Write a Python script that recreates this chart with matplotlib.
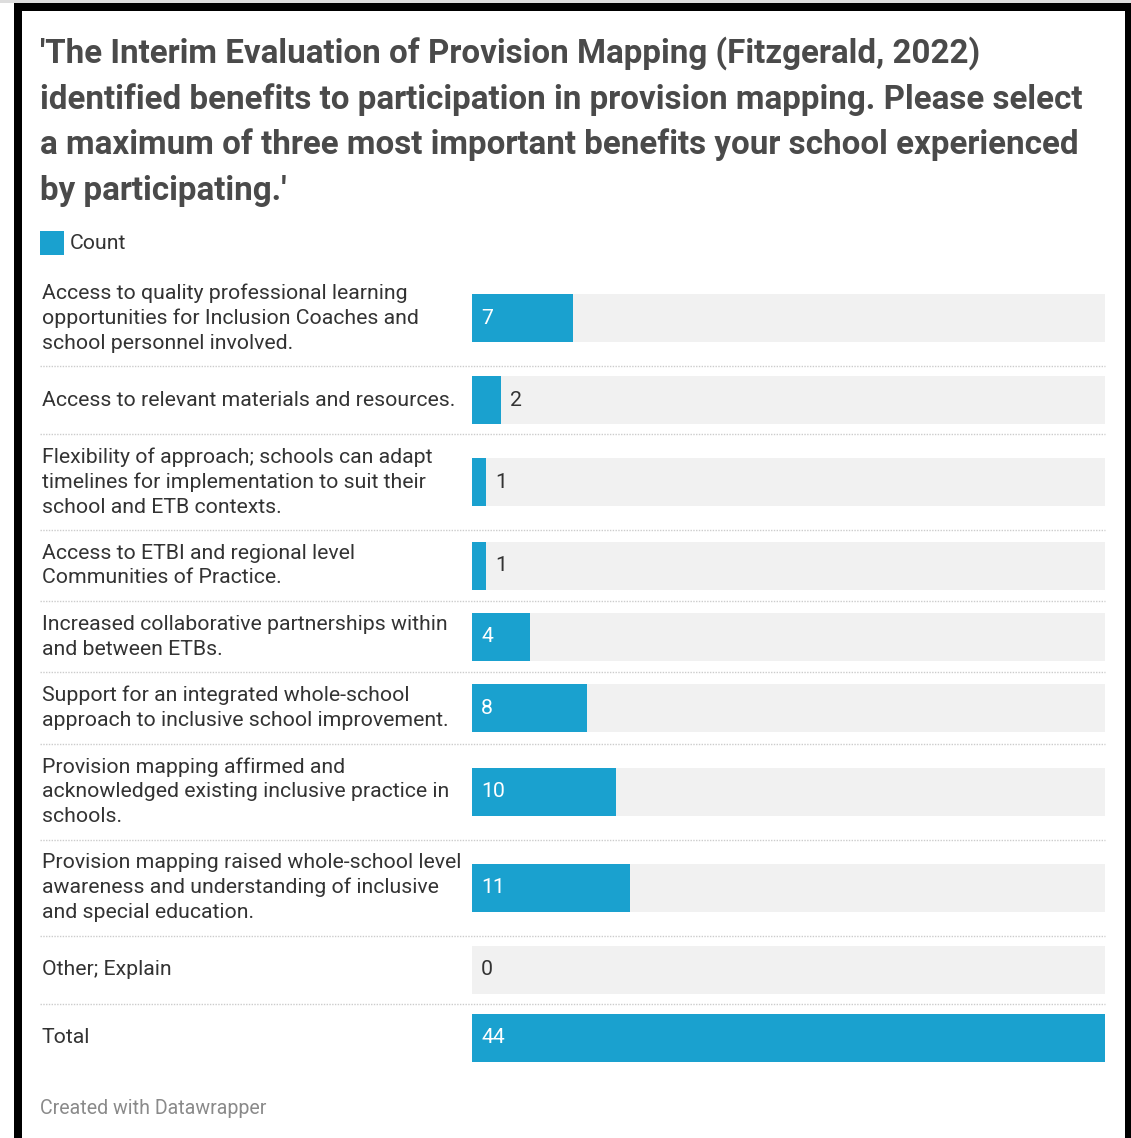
import matplotlib
matplotlib.use("Agg")
import matplotlib.pyplot as plt
from matplotlib.patches import Rectangle

plt.rcParams['font.family'] = ['Roboto', 'DejaVu Sans']

# ---- data ----
title_lines = [
    "'The Interim Evaluation of Provision Mapping (Fitzgerald, 2022)",
    "identified benefits to participation in provision mapping. Please select",
    "a maximum of three most important benefits your school experienced",
    "by participating.'",
]
categories = [
    "Access to quality professional learning\nopportunities for Inclusion Coaches and\nschool personnel involved.",
    "Access to relevant materials and resources.",
    "Flexibility of approach; schools can adapt\ntimelines for implementation to suit their\nschool and ETB contexts.",
    "Access to ETBI and regional level\nCommunities of Practice.",
    "Increased collaborative partnerships within\nand between ETBs.",
    "Support for an integrated whole-school\napproach to inclusive school improvement.",
    "Provision mapping affirmed and\nacknowledged existing inclusive practice in\nschools.",
    "Provision mapping raised whole-school level\nawareness and understanding of inclusive\nand special education.",
    "Other; Explain",
    "Total",
]
counts = [7, 2, 1, 1, 4, 8, 10, 11, 0, 44]
series_name = "Count"
footer = "Created with Datawrapper"

# ---- style ----
W, H = 1131, 1138
BAR = "#1aa1cf"
BG_BAR = "#f1f1f1"
TEXT = "#333333"
TITLE = "#4a4a4a"
FS = 15.3

fig = plt.figure(figsize=(W / 100, H / 100), dpi=100)
fig.patch.set_facecolor("white")

# row layout: pitch depends on number of label lines
pitch = {1: 68, 2: 71.2, 3: 96}
x0, x1 = 472, 1105
top = 270
centers, seps = [], []
for lab in categories:
    n = lab.count("\n") + 1
    h = pitch[n]
    centers.append(top + h / 2)
    top += h
    seps.append(top)

# bar axes in pixel y-space
bax = fig.add_axes([x0 / W, 0, (x1 - x0) / W, 1])
bax.set_ylim(H, 0)
vmax = max(counts)
bax.set_xlim(0, vmax)
bax.axis("off")
bax.barh(centers, [vmax] * len(counts), height=48, left=0, color=BG_BAR, lw=0)
bax.barh(centers, counts, height=48, left=0, color=BAR, lw=0)

# pixel-space overlay for text and decorations, drawn above the bars
ax = fig.add_axes([0, 0, 1, 1])
ax.set_xlim(0, W)
ax.set_ylim(H, 0)
ax.axis("off")
ax.patch.set_alpha(0)
ax.set_zorder(2)

# frame
ax.add_patch(Rectangle((0, 0), W, 3, color="#dddddd", lw=0))
ax.add_patch(Rectangle((14, 3), W - 14, 8, color="black", lw=0))
ax.add_patch(Rectangle((14, 3), 8, H, color="black", lw=0))
ax.add_patch(Rectangle((1125, 3), 6, H, color="black", lw=0))

# title
for i, line in enumerate(title_lines):
    ax.text(40, 63 + 45.5 * i, line, fontsize=23.9, fontweight="bold",
            color=TITLE, va="baseline", ha="left")

# legend
ax.add_patch(Rectangle((40, 231), 24, 24, color=BAR, lw=0))
ax.text(70, 243, series_name, fontsize=FS, color=TEXT, va="center", ha="left")

px_per_unit = (x1 - x0) / vmax
for c, v, lab in zip(centers, counts, categories):
    ax.text(42, c, lab, fontsize=FS, color=TEXT, va="center", ha="left",
            linespacing=1.37)
    bar_px = v * px_per_unit
    if bar_px > 40:
        ax.text(x0 + 9, c, str(v), fontsize=FS, color="white",
                va="center", ha="left")
    else:
        ax.text(x0 + bar_px + 9, c, str(v), fontsize=FS, color=TEXT,
                va="center", ha="left")

# dotted separators between rows
for s in seps[:-1]:
    ax.plot([40, x1], [s, s], color="#cccccc", lw=1, ls=(0, (1, 1)))

ax.text(40, 1108, footer, fontsize=14.1, color="#8a8a8a", va="center", ha="left")

fig.savefig("out.png", dpi=100, facecolor="white")
